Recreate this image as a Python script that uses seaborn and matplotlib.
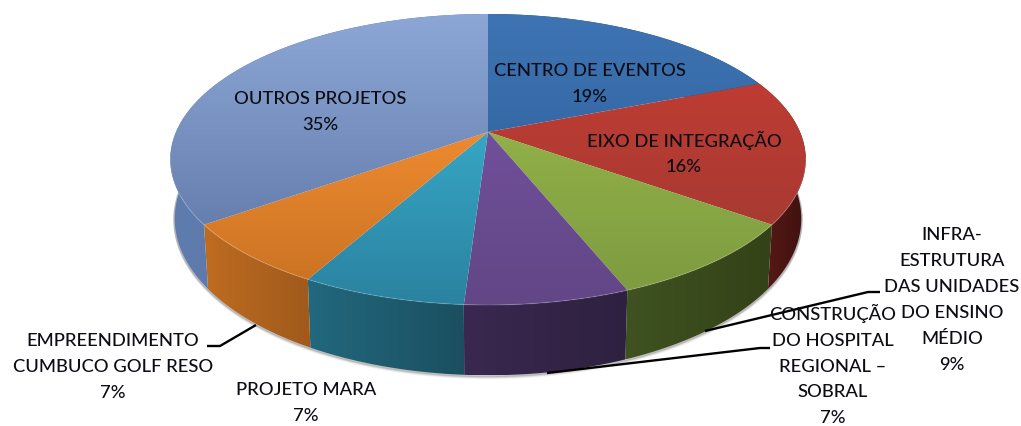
import numpy as np
import matplotlib
matplotlib.use("Agg")
import matplotlib.pyplot as plt
from matplotlib.patches import Polygon
import seaborn as sns

categories = ["CENTRO DE EVENTOS", "EIXO DE INTEGRAÇÃO",
              "INFRA-\nESTRUTURA\nDAS UNIDADES\nDO ENSINO\nMÉDIO",
              "CONSTRUÇÃO\nDO HOSPITAL\nREGIONAL –\nSOBRAL",
              "PROJETO MARA", "EMPREENDIMENTO\nCUMBUCO GOLF RESO", "OUTROS PROJETOS"]
values = [19, 16, 9, 7, 7, 7, 35]

top_light = ["#3F74B4", "#BE3C33", "#90B048", "#70509A", "#36A6C4", "#EE8A30", "#8CA7D6"]
top_dark = ["#3569A6", "#A83A32", "#7E9C40", "#624686", "#2A82A0", "#CC7424", "#677FAE"]
side_a = ["#2A4A75", "#5C1A16", "#3F5220", "#3A2850", "#22687E", "#BE6C20", "#5F7CAE"]
side_b = ["#2A4A75", "#3E1210", "#334218", "#2E2140", "#1B4F60", "#A05A1C", "#56709E"]

label_xy = [(590, 84), (684, 153), (952, 300), (833, 365), (306, 403), (113, 367), (320, 112)]
leaders = [None, None, [(705, 331), (868, 292), (880, 292)], [(547, 373), (760, 348), (770, 348)],
           None, [(207, 346), (220, 346), (256, 325)], None]

CX, CY, AX, BY, PERSP, DROP, SHRINK = 488, 132, 312, 140.3, 0.189, 57, 0.986


def rim(deg, lower=False):
    t = np.radians(deg)
    u, v = np.cos(t), np.sin(t)
    d = 1 + PERSP * v
    x = CX + AX * u / d * (SHRINK if lower else 1)
    y = CY - BY * v / d + (DROP / d if lower else 0)
    return np.column_stack([x, y])


def hex_rgb(c):
    return np.array(matplotlib.colors.to_rgb(c))


def fill(ax, poly, c0, c1, vertical, z):
    patch = Polygon(poly, closed=True, fc="none", ec="none", zorder=z)
    ax.add_patch(patch)
    xmin, ymin = poly.min(axis=0)
    xmax, ymax = poly.max(axis=0)
    s = np.linspace(0, 1, 64)[:, None]
    grad = hex_rgb(c0) * (1 - s) + hex_rgb(c1) * s
    img = grad[:, None, :] if vertical else grad[None, :, :]
    im = ax.imshow(img, extent=(xmin, xmax, ymax, ymin), aspect="auto",
                   origin="upper", zorder=z, interpolation="bilinear")
    im.set_clip_path(patch)


sns.set_theme(style="white")
plt.rcParams["font.family"] = ["Lato", "DejaVu Sans"]

fig = plt.figure(figsize=(10.21, 4.26), dpi=100, facecolor="white")
ax = fig.add_axes([0, 0, 1, 1])
wedges, _ = ax.pie(values, startangle=90, counterclock=False)
spans = [(w.theta1, w.theta2) for w in wedges]
for w in wedges:
    w.remove()

# soft shadow below the rim
arc = np.linspace(170, 370, 200)
low = rim(arc, lower=True)
for off, a in zip((3.5, 2.5, 1.5), (0.06, 0.10, 0.16)):
    ax.plot(low[:, 0], low[:, 1] + off - 1, color="black", alpha=a, lw=2, zorder=1)

# side walls first, then top faces over them
for i, (a, b) in enumerate(spans):
    th = np.linspace(a, b, 80)
    poly = np.vstack([rim(th), rim(th[::-1], lower=True)])
    fill(ax, poly, side_a[i], side_b[i], False, 2 + i * 0.01)

for i, (a, b) in enumerate(spans):
    th = np.linspace(a, b, 120)
    poly = np.vstack([[CX, CY], rim(th)])
    fill(ax, poly, top_light[i], top_dark[i], True, 3 + i * 0.01)

# pale bevel along the front of the top face
front = rim(np.linspace(190, 350, 200))
ax.plot(front[:, 0], front[:, 1], color="white", alpha=0.12, lw=1.0, zorder=4)

for path in leaders:
    if path:
        xs, ys = zip(*path)
        ax.plot(xs, ys, color="black", lw=1.7, zorder=5, solid_capstyle="butt")

for name, v, (x, y) in zip(categories, values, label_xy):
    ax.text(x, y, f"{name}\n{v}%", ha="center", va="center", ma="center",
            fontsize=13.2, fontweight="medium", color="#0C0C14", linespacing=1.76, zorder=6)

ax.set_xlim(0, 1021)
ax.set_ylim(426, 0)
ax.set_aspect("auto")
ax.axis("off")
fig.savefig("out.png", dpi=100, facecolor="white")
